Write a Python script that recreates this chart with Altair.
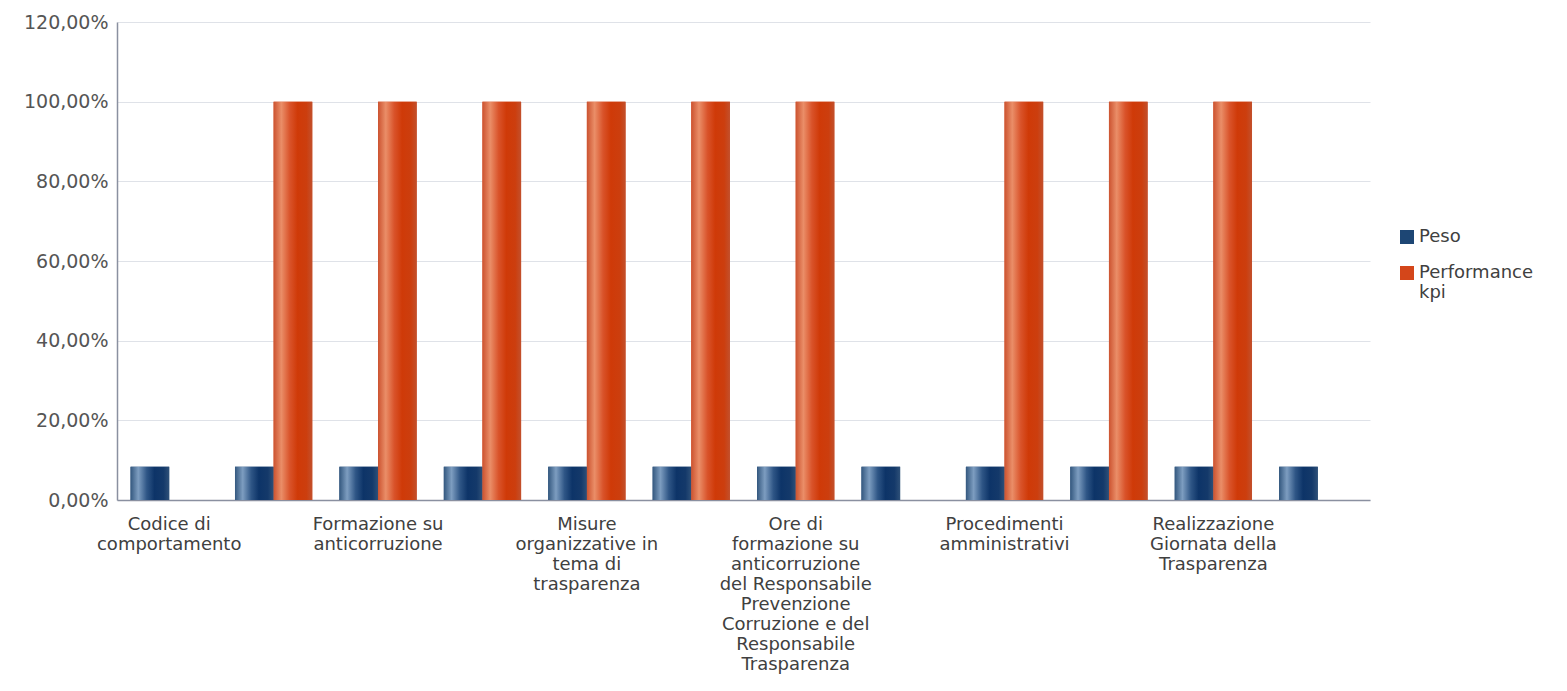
import json
import altair as alt
import pandas as pd

categories = [
    "Codice di comportamento",
    "Indicatore 2",
    "Formazione su anticorruzione",
    "Indicatore 4",
    "Misure organizzative in tema di trasparenza",
    "Indicatore 6",
    "Ore di formazione su anticorruzione del Responsabile Prevenzione Corruzione e del Responsabile Trasparenza",
    "Indicatore 8",
    "Procedimenti amministrativi",
    "Indicatore 10",
    "Realizzazione Giornata della Trasparenza",
    "Indicatore 12",
]
tick_labels = [
    ["Codice di", "comportamento"],
    [],
    ["Formazione su", "anticorruzione"],
    [],
    ["Misure", "organizzative in", "tema di", "trasparenza"],
    [],
    ["Ore di", "formazione su", "anticorruzione", "del Responsabile", "Prevenzione",
     "Corruzione e del", "Responsabile", "Trasparenza"],
    [],
    ["Procedimenti", "amministrativi"],
    [],
    ["Realizzazione", "Giornata della", "Trasparenza"],
    [],
]
series = ["Peso", "Performance kpi"]
peso = [0.0833, 0.0833, 0.0833, 0.0833, 0.0833, 0.0833,
        0.0833, 0.0833, 0.0833, 0.0833, 0.0833, 0.0833]
performance = [None, 1.0, 1.0, 1.0, 1.0, 1.0, 1.0, None, 1.0, 1.0, 1.0, None]

rows = []
for c, p, q in zip(categories, peso, performance):
    if p is not None:
        rows.append({"cat": c, "series": "Peso", "value": p})
    if q is not None:
        rows.append({"cat": c, "series": "Performance kpi", "value": q})
df = pd.DataFrame(rows)

# label expression
expr = "''"
for c, lines in reversed(list(zip(categories, tick_labels))):
    if lines:
        expr = f"datum.value == {json.dumps(c)} ? {json.dumps(lines)} : ({expr})"

FONT = "DejaVu Sans"

grad_peso = alt.Gradient(
    gradient="linear", x1=0, x2=1, y1=0, y2=0,
    stops=[
        alt.GradientStop(color="#34587f", offset=0),
        alt.GradientStop(color="#7d9dc0", offset=0.2),
        alt.GradientStop(color="#2f5686", offset=0.42),
        alt.GradientStop(color="#0d3468", offset=0.62),
        alt.GradientStop(color="#14396a", offset=0.85),
        alt.GradientStop(color="#2e5078", offset=1),
    ],
)
grad_perf = alt.Gradient(
    gradient="linear", x1=0, x2=1, y1=0, y2=0,
    stops=[
        alt.GradientStop(color="#cc5330", offset=0),
        alt.GradientStop(color="#ea8e68", offset=0.2),
        alt.GradientStop(color="#d9532a", offset=0.42),
        alt.GradientStop(color="#cf3a08", offset=0.62),
        alt.GradientStop(color="#cc3e0e", offset=0.85),
        alt.GradientStop(color="#c2502c", offset=1),
    ],
)

base = alt.Chart(df).encode(
    x=alt.X(
        "cat:N",
        sort=categories,
        scale=alt.Scale(domain=categories, paddingInner=0.26, paddingOuter=0.13),
        axis=alt.Axis(
            title=None,
            labelExpr=expr,
            labelAngle=0,
            labelFont=FONT,
            labelFontSize=18,
            labelColor="#404040",
            labelLineHeight=20,
            labelBaseline="top",
            labelPadding=15,
            labelOverlap=False,
            labelLimit=400,
            ticks=False,
            tickSize=0,
            domainColor="#8a90a0",
            domainWidth=1.5,
            grid=False,
        ),
    ),
    xOffset=alt.XOffset("series:N", sort=series, scale=alt.Scale(domain=series)),
    y=alt.Y(
        "value:Q",
        scale=alt.Scale(domain=[0, 1.2], nice=False),
        axis=alt.Axis(
            title=None,
            values=[0, 0.2, 0.4, 0.6, 0.8, 1.0, 1.2],
            labelExpr="replace(format(datum.value, '.2%'), '.', ',')",
            labelFont=FONT,
            labelFontSize=19,
            labelColor="#555555",
            labelPadding=9,
            ticks=False,
            tickSize=0,
            domainColor="#8a90a0",
            domainWidth=1.5,
            gridColor="#dfe2e8",
            gridWidth=1,
        ),
    ),
)

solid = base.mark_bar().encode(
    color=alt.Color(
        "series:N",
        sort=series,
        scale=alt.Scale(domain=series, range=["#1d4674", "#d4461a"]),
        legend=alt.Legend(
            title=None,
            orient="none",
            legendX=1281,
            legendY=206,
            symbolType="square",
            symbolSize=196,
            symbolStrokeWidth=0,
            labelFont=FONT,
            labelFontSize=18,
            labelColor="#404040",
            labelExpr="split(datum.label, ' ')",
            rowPadding=18,
            labelOffset=3,
        ),
    )
)
peso_bars = base.transform_filter(alt.datum.series == "Peso").mark_bar(color=grad_peso)
perf_bars = base.transform_filter(alt.datum.series == "Performance kpi").mark_bar(color=grad_perf)

chart = (
    alt.layer(solid, peso_bars, perf_bars)
    .properties(
        width=1253,
        height=478,
        autosize=alt.AutoSizeParams(type="none"),
        padding={"left": 109, "top": 14, "right": 185, "bottom": 178},
    )
    .configure_view(stroke=None)
)

chart.save("out.html", embed_options={"renderer": "svg", "actions": False})
